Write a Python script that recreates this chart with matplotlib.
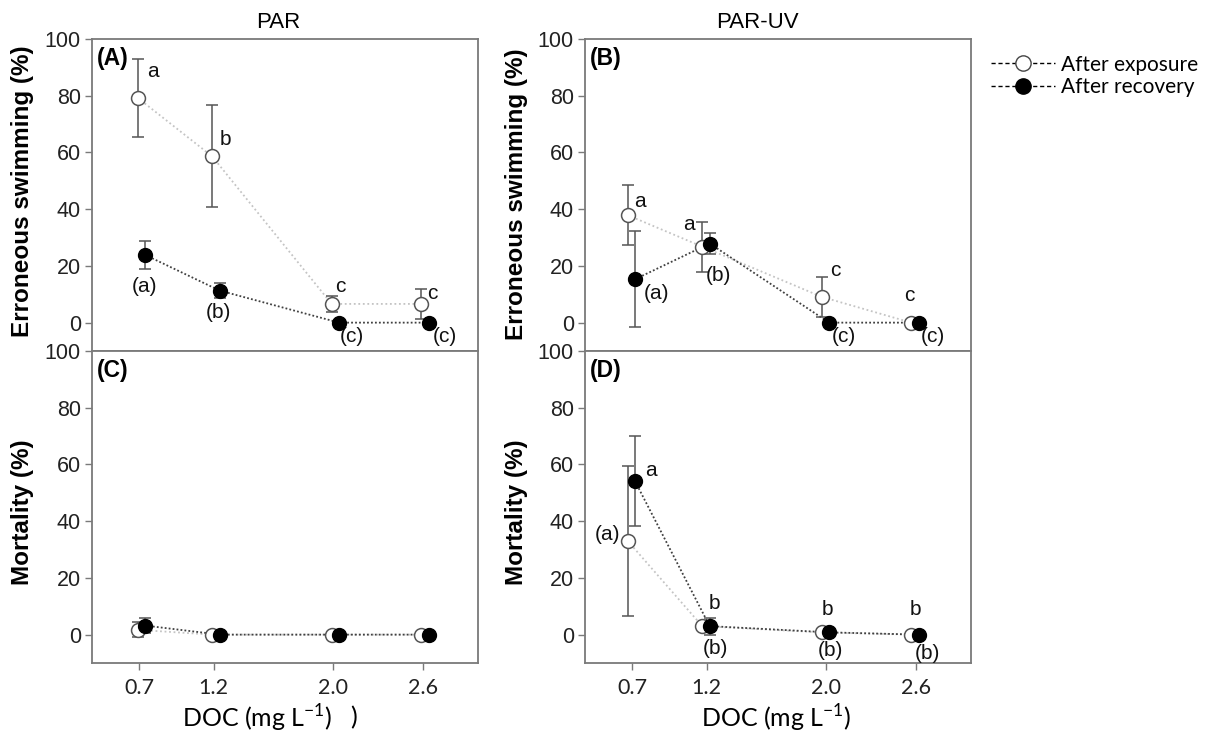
import numpy as np
import matplotlib.pyplot as plt
from matplotlib.lines import Line2D

plt.rcParams['font.family'] = ['Liberation Sans', 'DejaVu Sans']
plt.rcParams['mathtext.fontset'] = 'custom'
plt.rcParams['mathtext.rm'] = 'Lato'

# DOC concentrations (mg L-1)
doc = [0.7, 1.2, 2.0, 2.6]
doc_labels = ["0.7", "1.2", "2.0", "2.6"]

# (A) PAR - erroneous swimming
a_exp = [79.3, 58.6, 6.6, 6.6]
a_exp_err = [13.7, 18.0, 2.8, 5.4]
a_rec = [23.9, 11.3, 0.0, 0.0]
a_rec_err = [4.9, 2.5, 0.0, 0.0]
a_exp_letters = ["a", "b", "c", "c"]
a_rec_letters = ["(a)", "(b)", "(c)", "(c)"]

# (B) PAR-UV - erroneous swimming
b_exp = [37.9, 26.8, 9.1, 0.0]
b_exp_err = [10.7, 8.8, 7.0, 0.0]
b_rec = [15.3, 27.9, 0.0, 0.0]
b_rec_err = [17.0, 3.7, 0.0, 0.0]
b_exp_letters = ["a", "a", "c", "c"]
b_rec_letters = ["(a)", "(b)", "(c)", "(c)"]

# (C) PAR - mortality
c_exp = [1.7, 0.0, 0.0, 0.0]
c_exp_err = [2.7, 0.0, 0.0, 0.0]
c_rec = [3.2, 0.0, 0.0, 0.0]
c_rec_err = [2.5, 0.0, 0.0, 0.0]

# (D) PAR-UV - mortality
d_exp = [33.1, 3.0, 0.8, 0.0]
d_exp_err = [26.4, 0.0, 0.0, 0.0]
d_rec = [54.1, 3.0, 0.8, 0.0]
d_rec_err = [15.8, 3.0, 0.0, 0.0]
d_exp_letters = ["(a)", "(b)", "(b)", "(b)"]
d_rec_letters = ["a", "b", "b", "b"]

# letter offsets in pixels (styling only)
a_exp_off = [(15, 26), (13, 17), (9, 17), (11, 10)]
a_rec_off = [(-1, -32), (-1, -22), (13, -14), (16, -14)]
b_exp_off = [(12, 14), (-13, 22), (14, 26), (-2, 27)]
b_rec_off = [(21, -14), (9, -32), (15, -14), (14, -14)]
d_exp_off = [(-20, 6), (13, -22), (9, -18), (16, -19)]
d_rec_off = [(16, 11), (5, 23), (-2, 23), (-3, 25)]

W, H = 1219, 738
fig = plt.figure(figsize=(W / 100, H / 100), dpi=100)

def px_axes(x0, y0, x1, y1):
    return fig.add_axes([x0 / W, 1 - y1 / H, (x1 - x0) / W, (y1 - y0) / H])

ax_a = px_axes(92, 39, 478, 351)
ax_b = px_axes(585, 39, 971, 351)
ax_c = px_axes(92, 351, 478, 663)
ax_d = px_axes(585, 351, 971, 663)

spine_col = '#7a7a7a'


def draw(ax, exp, exp_err, rec, rec_err, exp_shift, rec_shift,
         exp_letters=None, rec_letters=None, exp_off=None, rec_off=None):
    x = np.array(doc)
    xe = x + exp_shift
    xr = x + rec_shift
    exp = np.array(exp)
    rec = np.array(rec)
    exp_err = np.array(exp_err)
    rec_err = np.array(rec_err)

    ax.plot(xe, exp, linestyle=(0, (1, 1.5)), color='#c4c4c4', lw=1.3, zorder=1)
    ax.plot(xr, rec, linestyle=(0, (1, 1.2)), color='#404040', lw=1.3, zorder=1)

    m = exp_err > 0
    ax.errorbar(xe[m], exp[m], yerr=exp_err[m], fmt='none', ecolor='#555555',
                elinewidth=1.1, capsize=4, capthick=1.1, zorder=2)
    m = rec_err > 0
    ax.errorbar(xr[m], rec[m], yerr=rec_err[m], fmt='none', ecolor='#555555',
                elinewidth=1.1, capsize=4, capthick=1.1, zorder=2)

    ax.plot(xe, exp, 'o', ms=10, mfc='white', mec='#555555', mew=1.1,
            linestyle='none', zorder=3)
    ax.plot(xr, rec, 'o', ms=10, mfc='black', mec='black', mew=1,
            linestyle='none', zorder=4)

    if exp_letters:
        for xi, yi, t, off in zip(xe, exp, exp_letters, exp_off):
            ax.annotate(t, (xi, yi), xytext=off, textcoords='offset pixels',
                        ha='center', va='center', fontsize=15, color='#111111',
                        annotation_clip=False)
    if rec_letters:
        for xi, yi, t, off in zip(xr, rec, rec_letters, rec_off):
            ax.annotate(t, (xi, yi), xytext=off, textcoords='offset pixels',
                        ha='center', va='center', fontsize=15, color='#111111',
                        annotation_clip=False)


draw(ax_a, a_exp, a_exp_err, a_rec, a_rec_err, -0.01, 0.04,
     a_exp_letters, a_rec_letters, a_exp_off, a_rec_off)
draw(ax_b, b_exp, b_exp_err, b_rec, b_rec_err, -0.03, 0.02,
     b_exp_letters, b_rec_letters, b_exp_off, b_rec_off)
draw(ax_c, c_exp, c_exp_err, c_rec, c_rec_err, -0.01, 0.04)
draw(ax_d, d_exp, d_exp_err, d_rec, d_rec_err, -0.03, 0.02,
     d_exp_letters, d_rec_letters, d_exp_off, d_rec_off)

for ax, tag in zip([ax_a, ax_b, ax_c, ax_d], ['(A)', '(B)', '(C)', '(D)']):
    ax.set_xlim(0.385, 2.97)
    ax.set_ylim(-10, 100)
    ax.set_yticks([0, 20, 40, 60, 80, 100])
    ax.set_xticks(doc)
    ax.set_xticklabels(doc_labels, fontfamily='Lato', fontsize=15.5)
    ax.tick_params(axis='y', direction='out', length=5, width=1,
                   color=spine_col, labelsize=15.5, labelcolor='#222222', pad=3)
    ax.tick_params(axis='x', direction='out', length=5, width=1,
                   color=spine_col, labelcolor='#222222', pad=6)
    for s in ax.spines.values():
        s.set_color(spine_col)
        s.set_linewidth(1.3)
    ax.text(0.013, 0.975, tag, transform=ax.transAxes, ha='left', va='top',
            fontsize=16.5, fontweight='bold')

for ax in [ax_a, ax_b]:
    ax.tick_params(axis='x', bottom=False, labelbottom=False)

# column titles
fig.text(278 / W, 1 - 22 / H, 'PAR', ha='center', va='center', fontsize=16)
fig.text(757 / W, 1 - 22 / H, 'PAR-UV', ha='center', va='center', fontsize=16)

# y labels
fig.text(23 / W, 1 - 191 / H, 'Erroneous swimming (%)', rotation=90,
         ha='center', va='center', fontsize=17.5, fontweight='bold')
fig.text(517 / W, 1 - 194 / H, 'Erroneous swimming (%)', rotation=90,
         ha='center', va='center', fontsize=17.5, fontweight='bold')
fig.text(23 / W, 1 - 512 / H, 'Mortality (%)', rotation=90,
         ha='center', va='center', fontsize=17.5, fontweight='bold')
fig.text(517 / W, 1 - 512 / H, 'Mortality (%)', rotation=90,
         ha='center', va='center', fontsize=17.5, fontweight='bold')

# x labels
fig.text(257 / W, 1 - 718 / H, 'DOC (mg L$^{\\mathrm{-1}}$)', ha='center',
         va='center', fontsize=18, fontfamily='Lato')
fig.text(354 / W, 1 - 718 / H, ')', ha='center', va='center', fontsize=18,
         fontfamily='Lato')
fig.text(776 / W, 1 - 718 / H, 'DOC (mg L$^{\\mathrm{-1}}$)', ha='center',
         va='center', fontsize=18, fontfamily='Lato')

# legend
handles = [
    Line2D([], [], color='black', lw=1, linestyle=(0, (3, 2)), marker='o',
           ms=11, mfc='white', mec='#444444'),
    Line2D([], [], color='black', lw=1, linestyle=(0, (3, 2)), marker='o',
           ms=11, mfc='black', mec='black'),
]
fig.legend(handles, ['After exposure', 'After recovery'], loc='upper left',
           bbox_to_anchor=(972 / W, 1 - 36 / H), frameon=False,
           handlelength=3.1, handletextpad=0.25, labelspacing=0.12,
           prop={'family': 'Lato', 'size': 15})

fig.savefig('out.png', dpi=100)
